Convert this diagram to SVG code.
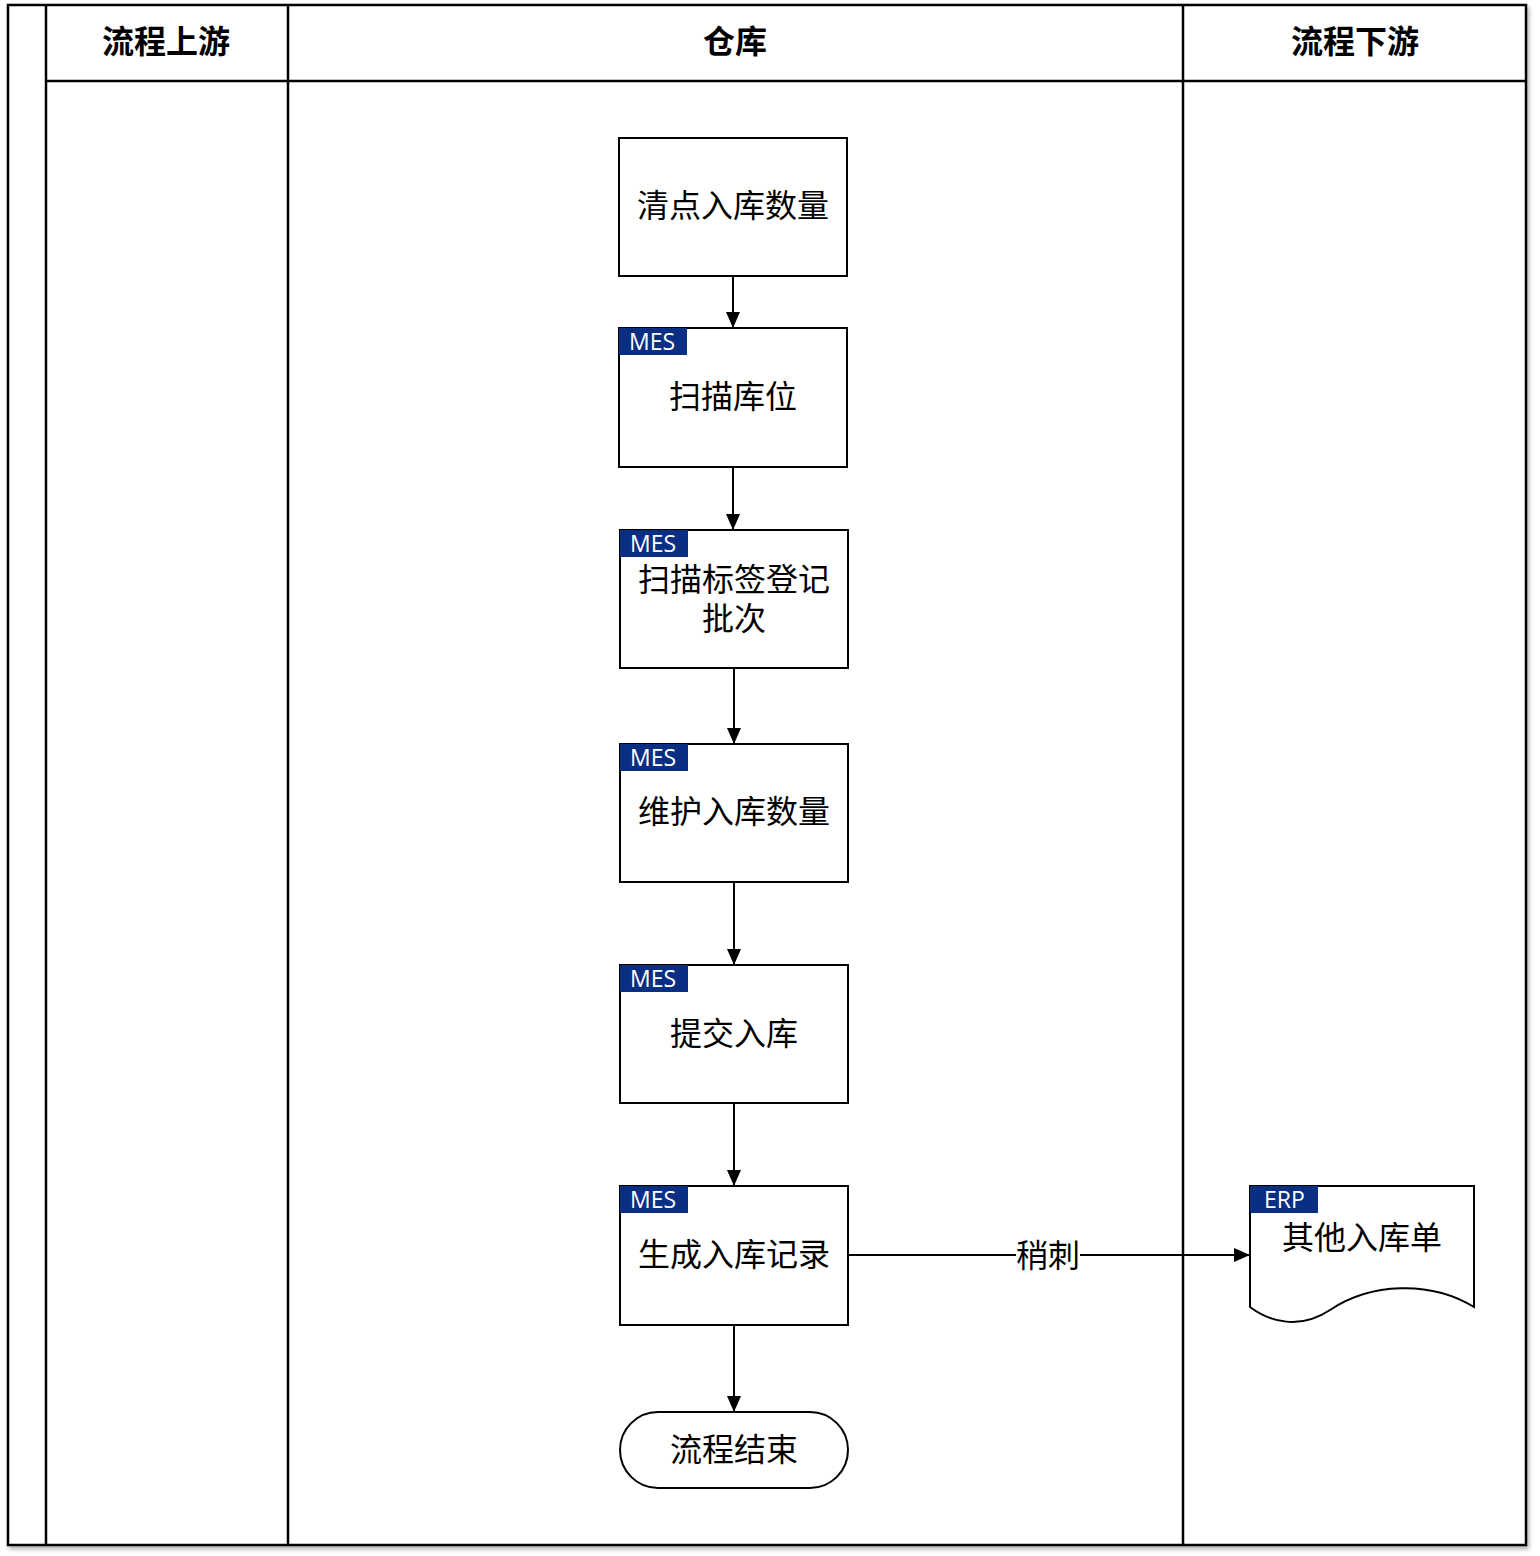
<svg xmlns="http://www.w3.org/2000/svg" width="1540" height="1556" viewBox="0 0 1540 1556">
<style>
.ln{fill:none;stroke:#000;stroke-width:2.5}
.bx{fill:#fff;stroke:#000;stroke-width:2}
.tag{fill:#0a2e82}
.tt{font-family:"Open Sans","Noto Sans","Liberation Sans",sans-serif;font-size:23px;fill:#fff}
.t{font-family:"Noto Sans CJK SC","Noto Sans",sans-serif;font-size:32px;fill:#000;text-anchor:middle}
.h{font-family:"Noto Sans CJK SC","Noto Sans",sans-serif;font-size:32px;font-weight:bold;fill:#000;text-anchor:middle}
.c{fill:none;stroke:#000;stroke-width:2}
</style>
<defs>
<marker id="ar" viewBox="0 0 16 14" refX="16" refY="7" markerWidth="16" markerHeight="14" markerUnits="userSpaceOnUse" orient="auto"><path d="M0,0L16,7L0,14z" fill="#000"/></marker>
<filter id="sh" x="-5%" y="-5%" width="110%" height="110%"><feGaussianBlur in="SourceAlpha" stdDeviation="2"/><feOffset dx="2" dy="3"/><feComponentTransfer><feFuncA type="linear" slope="0.3"/></feComponentTransfer><feMerge><feMergeNode/><feMergeNode in="SourceGraphic"/></feMerge></filter>
</defs>
<rect width="1540" height="1556" fill="#fff"/>
<g id="pool">
<rect x="8" y="5" width="1518" height="1540" fill="#fff" stroke="#000" stroke-width="2.5" filter="url(#sh)"/>
<line class="ln" x1="46" y1="5" x2="46" y2="1545"/>
<line class="ln" x1="288" y1="5" x2="288" y2="1545"/>
<line class="ln" x1="1183" y1="5" x2="1183" y2="1545"/>
<line class="ln" x1="46" y1="81" x2="1526" y2="81"/>
<text class="h" x="166" y="53">流程上游</text>
<text class="h" x="735" y="53">仓库</text>
<text class="h" x="1355" y="53">流程下游</text>
</g>
<g id="connectors">
<line class="c" x1="733" y1="276" x2="733" y2="328" marker-end="url(#ar)"/>
<line class="c" x1="733" y1="467" x2="733" y2="530" marker-end="url(#ar)"/>
<line class="c" x1="734" y1="668" x2="734" y2="744" marker-end="url(#ar)"/>
<line class="c" x1="734" y1="882" x2="734" y2="965" marker-end="url(#ar)"/>
<line class="c" x1="734" y1="1103" x2="734" y2="1186" marker-end="url(#ar)"/>
<line class="c" x1="734" y1="1325" x2="734" y2="1412" marker-end="url(#ar)"/>
<line class="c" x1="848" y1="1255" x2="1250" y2="1255" marker-end="url(#ar)"/>
<rect x="1016" y="1238" width="64" height="34" fill="#fff"/>
<text class="t" x="1048" y="1267">稍刺</text>
</g>
<g id="n1"><rect class="bx" x="619" y="138" width="228" height="138"/><text class="t" x="733" y="217">清点入库数量</text></g>
<g id="n2"><rect class="bx" x="619" y="328" width="228" height="139"/><rect class="tag" x="619" y="328" width="68" height="27"/><text class="tt" x="629" y="350">MES</text><text class="t" x="733" y="408">扫描库位</text></g>
<g id="n3"><rect class="bx" x="620" y="530" width="228" height="138"/><rect class="tag" x="620" y="530" width="68" height="27"/><text class="tt" x="630" y="552">MES</text><text class="t" x="734" y="591">扫描标签登记</text><text class="t" x="734" y="630">批次</text></g>
<g id="n4"><rect class="bx" x="620" y="744" width="228" height="138"/><rect class="tag" x="620" y="744" width="68" height="27"/><text class="tt" x="630" y="766">MES</text><text class="t" x="734" y="823">维护入库数量</text></g>
<g id="n5"><rect class="bx" x="620" y="965" width="228" height="138"/><rect class="tag" x="620" y="965" width="68" height="27"/><text class="tt" x="630" y="987">MES</text><text class="t" x="734" y="1045">提交入库</text></g>
<g id="n6"><rect class="bx" x="620" y="1186" width="228" height="139"/><rect class="tag" x="620" y="1186" width="68" height="27"/><text class="tt" x="630" y="1208">MES</text><text class="t" x="734" y="1266">生成入库记录</text></g>
<g id="n7"><rect class="bx" x="620" y="1412" width="228" height="76" rx="38" ry="38"/><text class="t" x="734" y="1461">流程结束</text></g>
<g id="n8"><path class="bx" d="M1250,1186H1474V1307C1430,1280 1370,1283 1330,1310C1300,1330 1270,1322 1250,1307Z"/><rect class="tag" x="1250" y="1186" width="68" height="27"/><text class="tt" x="1264" y="1208">ERP</text><text class="t" x="1362" y="1249">其他入库单</text></g>
</svg>
